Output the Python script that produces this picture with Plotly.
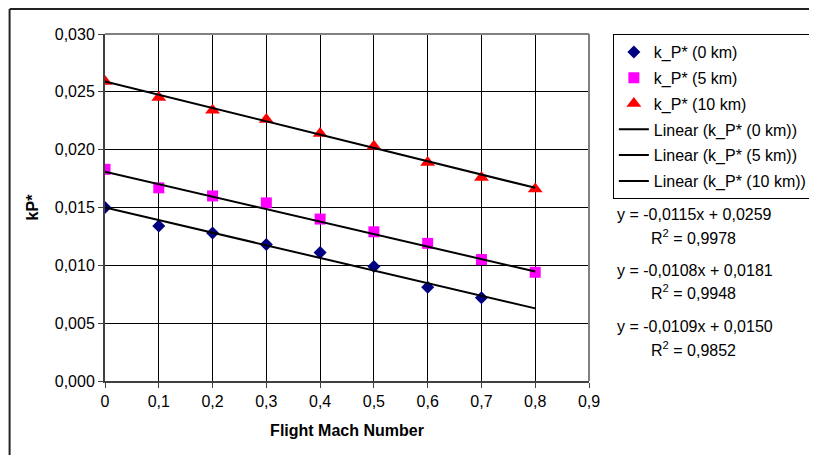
import plotly.graph_objects as go
import numpy as np

mach = [0.0, 0.1, 0.2, 0.3, 0.4, 0.5, 0.6, 0.7, 0.8]
kp_0km = [0.0150, 0.0134, 0.0128, 0.0118, 0.0111, 0.0099, 0.0081, 0.0072]
kp_5km = [0.0183, 0.0167, 0.0160, 0.0154, 0.0140, 0.0129, 0.0119, 0.0105, 0.0094]
kp_10km = [0.0259, 0.0245, 0.0234, 0.0226, 0.0214, 0.0203, 0.0189, 0.0176, 0.0166]

# trendline coefficients (slope, intercept) and R² as printed
fit_10km = (-0.0115, 0.0259, "0,9978")
fit_5km = (-0.0108, 0.0181, "0,9948")
fit_0km = (-0.0109, 0.0150, "0,9852")

x_tickvals = [0, 0.1, 0.2, 0.3, 0.4, 0.5, 0.6, 0.7, 0.8, 0.9]
x_ticktext = ["0", "0,1", "0,2", "0,3", "0,4", "0,5", "0,6", "0,7", "0,8", "0,9"]
y_tickvals = [0, 0.005, 0.010, 0.015, 0.020, 0.025, 0.030]
y_ticktext = ["0,000", "0,005", "0,010", "0,015", "0,020", "0,025", "0,030"]

FONT = "Arial, Liberation Sans, sans-serif"
FS = 16

fig = go.Figure()
fig.add_trace(go.Scatter(x=mach[:len(kp_0km)], y=kp_0km, mode="markers", name="k_P* (0 km)",
                         legendgroup="a",
                         marker=dict(symbol="diamond", color="#000080", size=10)))
fig.add_trace(go.Scatter(x=mach, y=kp_5km, mode="markers", name="k_P* (5 km)",
                         legendgroup="b",
                         marker=dict(symbol="square", color="#FF00FF", size=11)))
fig.add_trace(go.Scatter(x=mach, y=kp_10km, mode="markers", name="k_P* (10 km)",
                         legendgroup="c",
                         marker=dict(symbol="triangle-up", color="#FF0000", size=13)))

xs = np.array([mach[0], mach[-1]])
for g, name, fit in [("d", "Linear (k_P* (0 km))", fit_0km), ("e", "Linear (k_P* (5 km))", fit_5km),
                     ("f", "Linear (k_P* (10 km))", fit_10km)]:
    fig.add_trace(go.Scatter(x=xs, y=fit[0] * xs + fit[1], mode="lines", name=name,
                             legendgroup=g,
                             line=dict(color="black", width=2)))

# page body has an 8px margin: convert screen pixels to figure pixels
OFF = 8
W, H = 817, 455
L, R, T, B = 105 - OFF, 592 - OFF, 34 - OFF, 381 - OFF
def px(x):
    return (x - OFF - L) / (R - L)
def py(y):
    return (B - (y - OFF)) / (B - T)

def fmt(v):
    return f"{v:.4f}".replace(".", ",")

annots = []
for fit, ye, yr in [(fit_10km, 214, 237), (fit_5km, 270, 292), (fit_0km, 326, 349)]:
    annots.append(dict(x=px(618), y=py(ye), xref="paper", yref="paper", xanchor="left", yanchor="middle",
                       text=f"y = {fmt(fit[0])}x + {fmt(fit[1])}", showarrow=False,
                       font=dict(family=FONT, size=FS, color="black")))
    annots.append(dict(x=px(697), y=py(yr), xref="paper", yref="paper", xanchor="center", yanchor="middle",
                       text=f"R<sup>2</sup> = {fit[2]}", showarrow=False,
                       font=dict(family=FONT, size=FS, color="black")))

shapes = [
    # outer chart border (top and left visible)
    dict(type="line", xref="paper", yref="paper", x0=px(9), x1=px(816), y0=py(9), y1=py(9),
         line=dict(color="#222222", width=2)),
    dict(type="line", xref="paper", yref="paper", x0=px(9), x1=px(9), y0=py(9), y1=py(470),
         line=dict(color="#222222", width=2)),
    # gray plot border top/right
    dict(type="line", xref="paper", yref="paper", x0=0, x1=1, y0=1, y1=1,
         line=dict(color="#808080", width=2), layer="above"),
    dict(type="line", xref="paper", yref="paper", x0=1, x1=1, y0=0, y1=1,
         line=dict(color="#808080", width=2), layer="above"),
]

fig.update_layout(
    width=W, height=H,
    margin=dict(l=L, r=W - R, t=T, b=H - B, pad=0),
    paper_bgcolor="white", plot_bgcolor="white",
    font=dict(family=FONT, size=FS, color="black"),
    showlegend=True,
    legend=dict(x=px(616), y=py(34), xanchor="left", yanchor="top",
                bordercolor="black", borderwidth=1, bgcolor="white",
                tracegroupgap=2,
                font=dict(family=FONT, size=FS, color="black")),
    annotations=annots,
    shapes=shapes,
    xaxis=dict(range=[0, 0.9], tickvals=x_tickvals, ticktext=x_ticktext,
               showgrid=True, gridcolor="black", gridwidth=1,
               showline=True, linecolor="#404040", linewidth=2,
               ticks="outside", ticklen=5, tickcolor="#404040",
               zeroline=False,
               title=dict(text="<b>Flight Mach Number</b>", font=dict(family=FONT, size=FS), standoff=16)),
    yaxis=dict(range=[0, 0.030], tickvals=y_tickvals, ticktext=y_ticktext,
               showgrid=True, gridcolor="black", gridwidth=1,
               showline=True, linecolor="#404040", linewidth=2,
               ticks="outside", ticklen=5, tickcolor="#404040",
               zeroline=False,
               title=dict(text="<b>kP*</b>", font=dict(family=FONT, size=FS), standoff=12)),
)

fig.write_html("out.html")
